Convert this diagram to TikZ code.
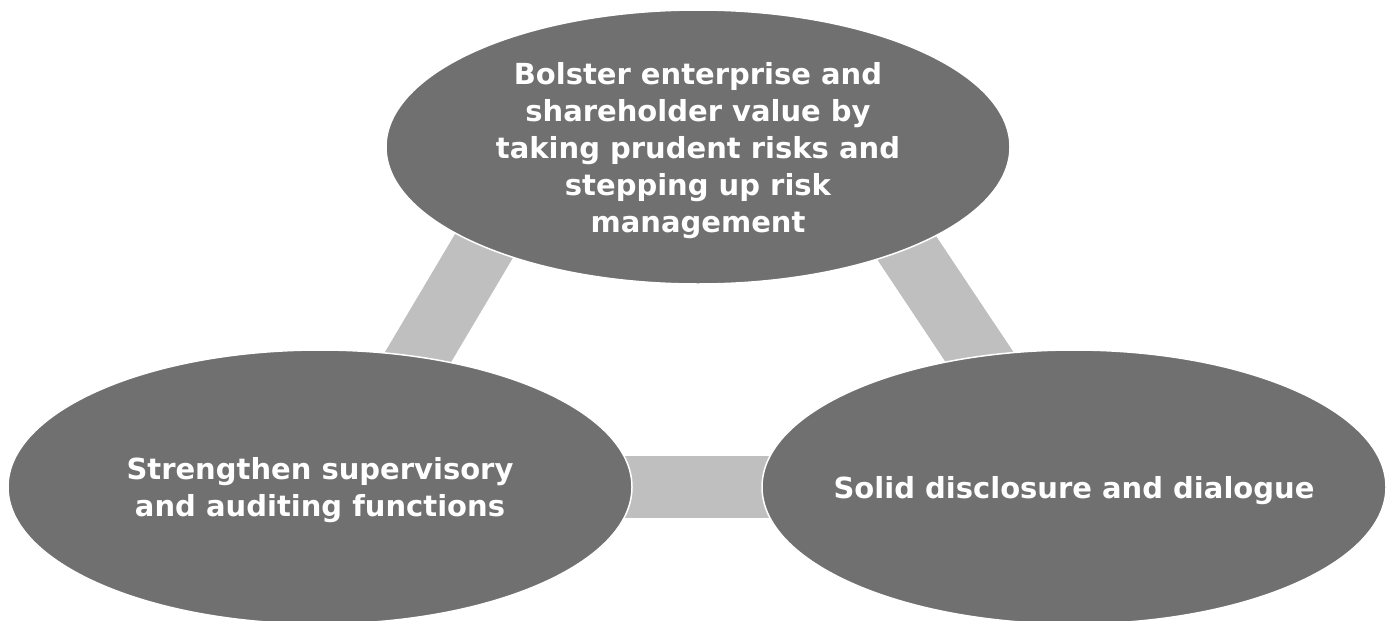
\documentclass[tikz,border=0pt]{standalone}
\usepackage{fontspec}
\setmainfont{DejaVu Sans}
\usetikzlibrary{shapes.geometric,backgrounds}

\definecolor{ovalgray}{RGB}{112,112,112}
\definecolor{bargray}{RGB}{191,191,191}

\begin{document}
\begin{tikzpicture}[x=1pt, y=-1pt,
    goal/.style={ellipse, fill=ovalgray, draw=white, line width=1.5pt,
        minimum width=624pt, minimum height=274pt, inner xsep=-40pt, inner ysep=0pt,
        text depth=-4pt, text=white, align=center,
        font=\bfseries\fontsize{29}{37}\selectfont},
    linkbar/.style={draw=bargray, line width=62pt, line cap=butt,
        shorten <=-40pt, shorten >=-40pt}]
            \useasboundingbox (0,0) rectangle (1392,621);

            \node[goal] (risk) at (698,147) {Bolster enterprise and\\shareholder value by\\taking prudent risks and\\stepping up risk\\management};
            \node[goal, text depth=-12pt] (audit) at (320,487) {Strengthen supervisory\\and auditing functions};
            \node[goal] (dialog) at (1074,487) {Solid disclosure and dialogue};

            \begin{scope}[on background layer]
                \draw[linkbar] (risk.205.6) -- (audit.53.4);
                \draw[linkbar] (risk.334.4) -- (dialog.126.6);
                \draw[linkbar] (audit.east) -- (dialog.west);
            \end{scope}
        \end{tikzpicture}
\end{document}
